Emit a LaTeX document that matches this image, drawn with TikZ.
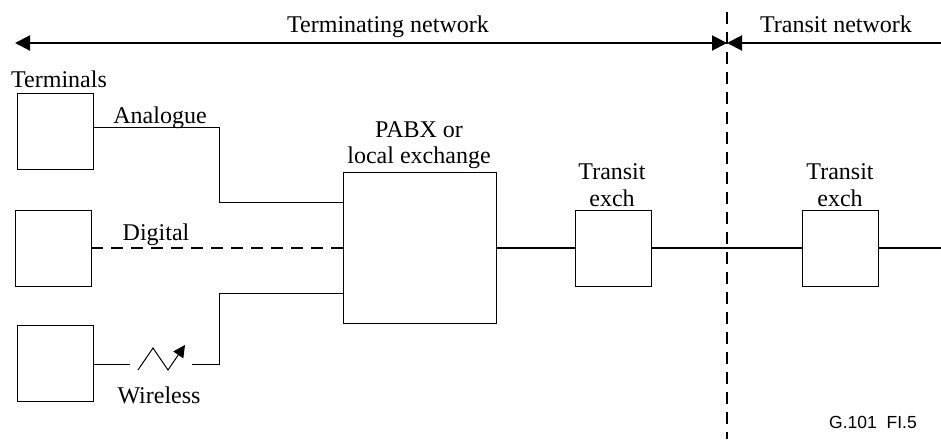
\documentclass[tikz,border=0pt]{standalone}
\usepackage{fontspec}
\setmainfont{Liberation Serif}
\newfontfamily\figsans{Liberation Sans}
\usetikzlibrary{arrows.meta}
\begin{document}
\begin{tikzpicture}[x=1pt,y=-1pt,
  box/.style={draw,line width=1pt,minimum width=76pt,minimum height=76pt,inner sep=0pt,outer sep=0pt},
  lbl/.style={anchor=base,inner sep=0pt,font=\fontsize{24}{28}\selectfont},
  thin/.style={line width=1pt},
  heavy/.style={line width=2pt},
  dashline/.style={line width=2pt,dash pattern=on 12pt off 8pt}
]
\useasboundingbox (0,0) rectangle (941,439);

% top scope arrows
\coordinate (aL) at (15,43);
\coordinate (aM) at (727,43);
\coordinate (aR) at (941,43);
\draw[line width=2pt,{Triangle[length=15pt,width=15pt]}-{Triangle[length=15pt,width=15pt]}] (aL) -- (aM);
\draw[line width=2pt,{Triangle[length=15pt,width=15pt]}-] (aM) -- (aR);
\node[lbl] (tnet) at (388,32) {Terminating network};
\node[lbl] (trnet) at (836,32) {Transit network};

% boundary
\coordinate (bT) at (727,12);
\coordinate (bB) at (727,439);
\draw[dashline] (bT) -- (bB);

% terminals
\node[lbl,anchor=base west] (term) at (11,87) {Terminals};
\node[box] (t1) at (55,131.5) {};
\node[box] (t2) at (53,248) {};
\node[box] (t3) at (55,363) {};

% exchanges
\node[box,minimum width=153pt,minimum height=151pt] (pabx) at (419.5,248) {};
\node[lbl] (p1) at (419,137) {PABX or};
\node[lbl] (p2) at (419,163) {local exchange};
\node[box] (te1) at (613,248) {};
\node[lbl] (te1a) at (612,179) {Transit};
\node[lbl] (te1b) at (612,206) {exch};
\node[box] (te2) at (840,248) {};
\node[lbl] (te2a) at (840,179) {Transit};
\node[lbl] (te2b) at (840,206) {exch};

% analogue
\coordinate (a1) at (219,127);
\coordinate (a2) at (219,202);
\draw[thin] (t1.east |- a1) -- (a1) -- (a2) -- (pabx.west |- a2);
\node[lbl] (an) at (160,123) {Analogue};

% digital
\coordinate (d1) at (348,248);
\draw[dashline] (t2.east) -- (d1);
\node[lbl] (dg) at (156,240) {Digital};

% wireless
\coordinate (w1) at (130,364);
\coordinate (w2) at (192,364);
\coordinate (w3) at (219,364);
\coordinate (w4) at (219,293);
\coordinate (z1) at (138,370);
\coordinate (z2) at (153,348);
\coordinate (z3) at (168,370);
\coordinate (z4) at (185,345);
\draw[thin] (t3.east |- w1) -- (w1);
\draw[thin,-{Triangle[length=12pt,width=12pt]}] (z1) -- (z2) -- (z3) -- (z4);
\draw[thin] (w2) -- (w3) -- (w4) -- (pabx.west |- w4);
\node[lbl] (wl) at (159,403) {Wireless};

% main trunk
\coordinate (rEnd) at (941,248);
\draw[heavy] (pabx.east) -- (te1.west);
\draw[heavy] (te1.east) -- (te2.west);
\draw[heavy] (te2.east) -- (rEnd);

\node[anchor=base,inner sep=0pt,font=\figsans\fontsize{17.5}{20}\selectfont] (ref) at (873,428) {G.101\ \ FI.5};
\end{tikzpicture}
\end{document}
